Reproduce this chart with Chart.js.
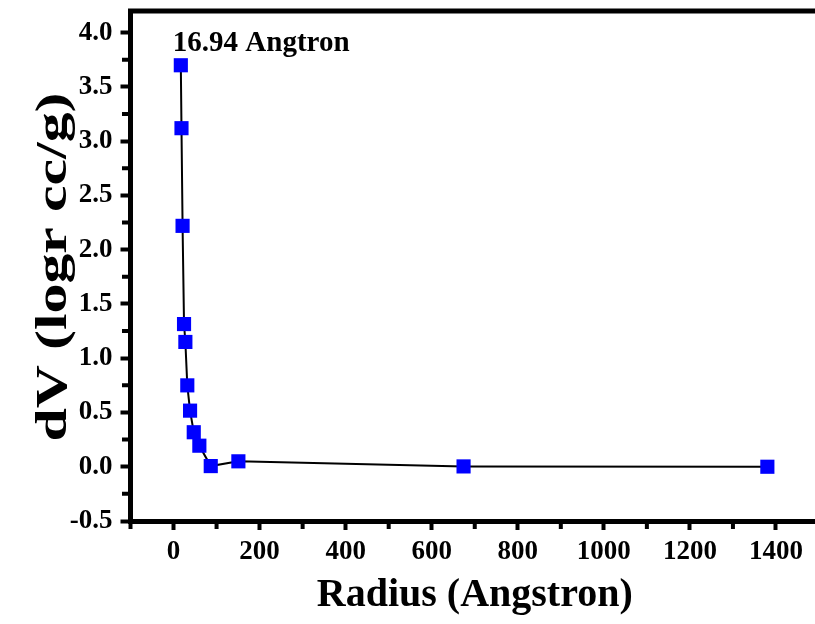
<!DOCTYPE html>
<html><head><meta charset="utf-8">
<script src="https://cdn.jsdelivr.net/npm/chart.js@4/dist/chart.umd.min.js"></script>
<style>html,body{margin:0;padding:0;background:#fff;overflow:hidden}#wrap{width:815px;height:624px;overflow:hidden;position:relative;background:#fff}canvas{display:block}</style>
</head><body><div id="wrap"><canvas id="c" width="819" height="624" style="width:819px;height:624px"></canvas></div>
<script>
const radius = [16.94, 18.5, 21, 24.4, 27.5, 32, 38.4, 47, 60, 86.5, 150.7, 674, 1380];
const dV = [3.70, 3.12, 2.22, 1.315, 1.15, 0.75, 0.517, 0.318, 0.194, 0.006, 0.05, 0.003, 0.0];
const xTicks = [0, 200, 400, 600, 800, 1000, 1200, 1400];
const xMinor = [-100, 100, 300, 500, 700, 900, 1100, 1300, 1500];
const yTicks = [-0.5, 0, 0.5, 1, 1.5, 2, 2.5, 3, 3.5, 4];
const yMinor = [-0.25, 0.25, 0.75, 1.25, 1.75, 2.25, 2.75, 3.25, 3.75];
const xTitle = 'Radius (Angstron)';
const yTitle = 'dV (logr cc/g)';
const noteText = '16.94 Angtron';

const FONT = '"Liberation Serif", "Times New Roman", serif';

const extras = {
  id: 'extras',
  afterDraw(chart) {
    const ctx = chart.ctx, a = chart.chartArea;
    const xs = chart.scales.x, ys = chart.scales.y;
    ctx.save();
    ctx.strokeStyle = '#000';
    // frame top & right
    ctx.lineWidth = 5;
    ctx.beginPath();
    ctx.moveTo(a.left - 2.5, a.top); ctx.lineTo(a.right + 2.5, a.top);
    ctx.moveTo(a.right, a.top); ctx.lineTo(a.right, a.bottom);
    ctx.stroke();
    // minor ticks
    ctx.lineWidth = 4;
    ctx.beginPath();
    xMinor.forEach(v => { const p = xs.getPixelForValue(v); ctx.moveTo(p, a.bottom + 2.5); ctx.lineTo(p, a.bottom + 8); });
    yMinor.forEach(v => { const p = ys.getPixelForValue(v); ctx.moveTo(a.left - 2.5, p); ctx.lineTo(a.left - 8.5, p); });
    ctx.stroke();
    // y title (stretched like the original)
    ctx.fillStyle = '#000';
    ctx.font = 'bold 44px ' + FONT;
    ctx.textAlign = 'center';
    ctx.textBaseline = 'middle';
    ctx.save();
    ctx.translate(a.left - 75.5, (a.top + a.bottom) / 2 + 1);
    ctx.rotate(-Math.PI / 2);
    ctx.scale(1.36, 1);
    ctx.fillText(yTitle, 0, 0);
    ctx.restore();
    // annotation near first point
    const px = xs.getPixelForValue(radius[0]), py = ys.getPixelForValue(dV[0]);
    ctx.font = 'bold 29px ' + FONT;
    ctx.textAlign = 'left';
    ctx.textBaseline = 'alphabetic';
    ctx.fillText(noteText, px - 8, py - 14);
    ctx.restore();
  }
};

new Chart(document.getElementById('c'), {
  type: 'line',
  data: {
    datasets: [{
      data: radius.map((r, i) => ({ x: r, y: dV[i] })),
      borderColor: '#000',
      borderWidth: 2,
      tension: 0,
      pointStyle: 'rect',
      pointRadius: 10,
      pointBackgroundColor: '#0000ff',
      pointBorderColor: '#0000ff',
      pointBorderWidth: 0,
      clip: false
    }]
  },
  options: {
    responsive: false,
    animation: false,
    devicePixelRatio: 1,
    layout: { autoPadding: false, padding: { top: 11, right: 0, left: 0, bottom: 0 } },
    plugins: { legend: { display: false }, tooltip: { enabled: false } },
    scales: {
      x: {
        type: 'linear', min: -100, max: 1500,
        afterBuildTicks: s => { s.ticks = xTicks.map(v => ({ value: v })); },
        afterFit: s => { s.height = 103; s.paddingLeft = 0; s.paddingRight = 0; },
        grid: { drawOnChartArea: false, tickLength: 9, tickWidth: 4, tickColor: '#000' },
        border: { display: true, width: 5, color: '#000' },
        ticks: { color: '#000', padding: 6, maxRotation: 0, autoSkip: false,
          callback: v => String(v),
          font: { family: FONT, size: 27, weight: 'bold' } },
        title: { display: true, text: xTitle, color: '#000', padding: { top: 0, bottom: 4 },
          font: { family: FONT, size: 40, weight: 'bold' } }
      },
      y: {
        type: 'linear', min: -0.5, max: 4.2,
        afterBuildTicks: s => { s.ticks = yTicks.map(v => ({ value: v })); },
        afterFit: s => { s.width = 130.5; s.paddingTop = 0; s.paddingBottom = 0; },
        grid: { drawOnChartArea: false, tickLength: 10, tickWidth: 4, tickColor: '#000' },
        border: { display: true, width: 5, color: '#000' },
        ticks: { color: '#000', padding: 8, autoSkip: false,
          callback: v => Number(v).toFixed(1),
          font: { family: FONT, size: 27, weight: 'bold' } }
      }
    }
  },
  plugins: [extras]
});
</script>
</body></html>
